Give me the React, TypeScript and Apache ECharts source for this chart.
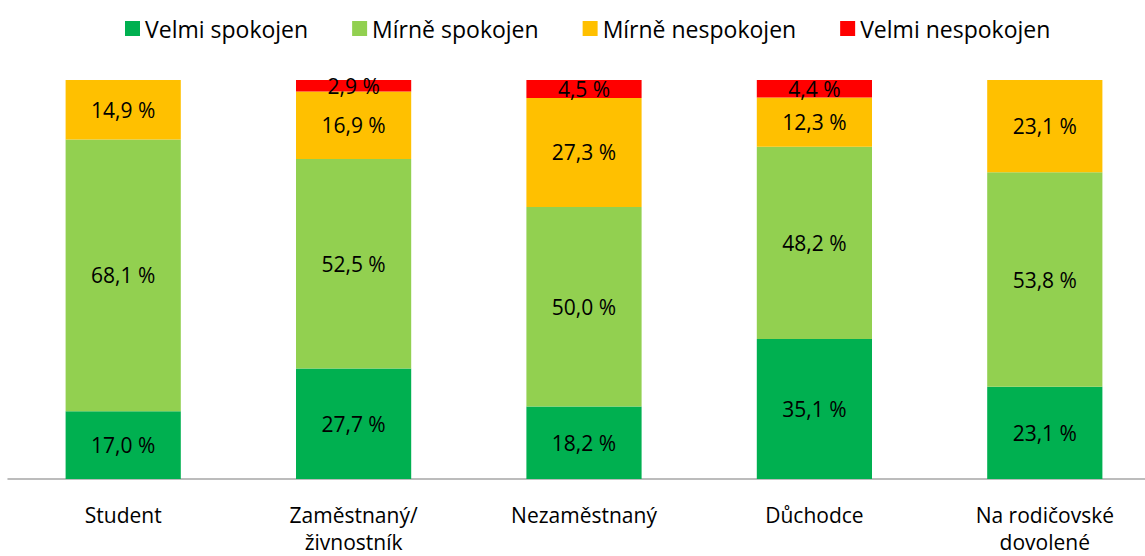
import React, { useEffect, useRef } from "react";
import * as echarts from "echarts";

const categories = ["Student", "Zaměstnaný/\nživnostník", "Nezaměstnaný", "Důchodce", "Na rodičovské\ndovolené"];
const seriesNames = ["Velmi spokojen", "Mírně spokojen", "Mírně nespokojen", "Velmi nespokojen"];
const velmiSpokojen = [17.0, 27.7, 18.2, 35.1, 23.1];
const mirneSpokojen = [68.1, 52.5, 50.0, 48.2, 53.8];
const mirneNespokojen = [14.9, 16.9, 27.3, 12.3, 23.1];
const velmiNespokojen = [0, 2.9, 4.5, 4.4, 0];
const colors = ["#00B050", "#92D050", "#FFC000", "#FF0000"];

const FONT = "Open Sans";

export default function App() {
  const ref = useRef<HTMLDivElement>(null);
  useEffect(() => {
    const chart = echarts.init(ref.current!, null, { renderer: "svg" });
    const data = [velmiSpokojen, mirneSpokojen, mirneNespokojen, velmiNespokojen];
    chart.setOption({
      animation: false,
      textStyle: { fontFamily: FONT },
      legend: {
        top: 12,
        left: 120,
        itemWidth: 15,
        itemHeight: 15,
        itemGap: 44,
        icon: "rect",
        textStyle: { fontSize: 23, color: "#000", fontFamily: FONT },
        data: seriesNames,
      },
      grid: { left: 8, right: -15, top: 80, bottom: 77, containLabel: false, outerBoundsMode: "none" },
      xAxis: {
        type: "category",
        data: categories,
        axisLine: { lineStyle: { color: "#A6A6A6", width: 1.5 } },
        axisTick: { show: false },
        axisLabel: { fontSize: 21, color: "#000", margin: 22, lineHeight: 27, fontFamily: FONT },
      },
      yAxis: { type: "value", min: 0, max: 100, show: false, splitLine: { show: false } },
      series: seriesNames.map((name, i) => ({
        name,
        type: "bar",
        stack: "total",
        barWidth: "50%",
        itemStyle: { color: colors[i] },
        data: data[i].map((v) => (v === 0 ? null : v)),
        label: {
          show: true,
          position: "inside",
          color: "#000",
          fontSize: 21,
          fontFamily: FONT,
          formatter: (p: any) => p.value.toFixed(1).replace(".", ",") + " %",
        },
      })),
    });
    return () => chart.dispose();
  }, []);
  return <div ref={ref} style={{ width: 1145, height: 556, position: "absolute", left: 0, top: 0 }} />;
}
